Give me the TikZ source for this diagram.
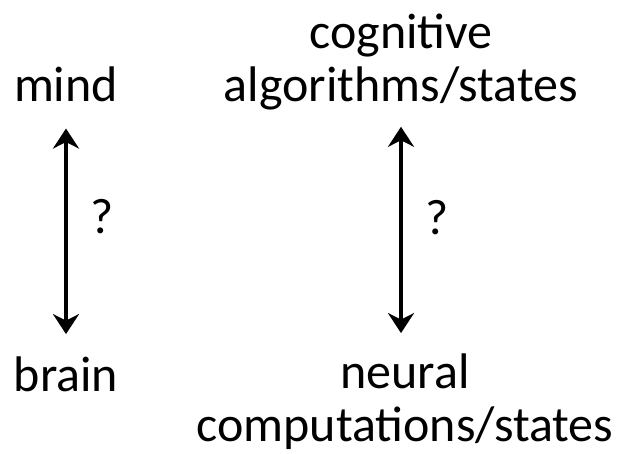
\documentclass[tikz,border=0pt]{standalone}
\usepackage{fontspec}
\setmainfont{Carlito}
\usepackage{tikz}
\usetikzlibrary{arrows.meta, positioning}

\begin{document}
\begin{tikzpicture}[
        x=1pt, y=1pt,
        every node/.style={font=\fontsize{50}{53}\selectfont, inner sep=0pt},
        term/.style={align=center, anchor=base},
        link/.style={{Stealth[length=20pt,width=26pt]}-{Stealth[length=20pt,width=26pt]}, line width=4pt}
        ]
        \useasboundingbox (0,0) rectangle (634,-453);
        % Nodes
        \node[term] (mind) at (66,-101) {mind};
        \node[term] (brain) at (66,-391) {brain};
        \node[term] (alg) at (401,-101) {cognitive\\algorithms/states};
        \node[term] (neur) at (405,-441) {neural\\computations/states};
        \node (q1) at (102,-217) {?};
        \node (q2) at (437,-218) {?};

        % Arrows
        \draw[link, shorten <=27pt, shorten >=22pt] (mind.south) -- (brain.north);
        \draw[link, shorten <=17pt, shorten >=20pt] (alg.south) -- (alg.south |- neur.north);
    \end{tikzpicture}
\end{document}
